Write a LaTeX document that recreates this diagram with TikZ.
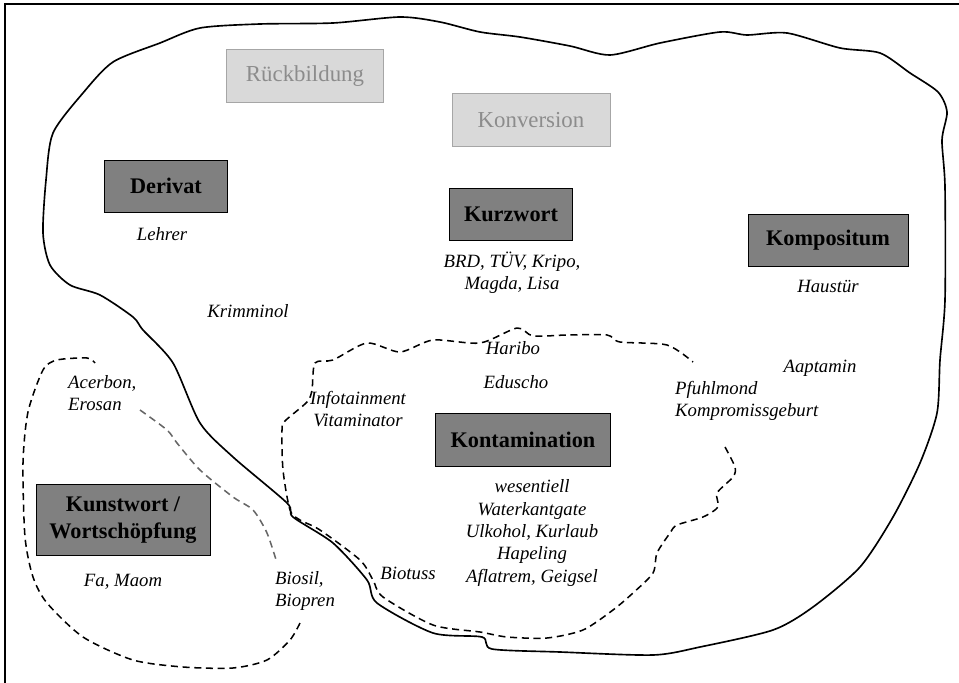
\documentclass[tikz,border=0pt]{standalone}
\usepackage{fontspec}
\setmainfont{Liberation Serif}
\tikzset{
  darkbox/.style={draw=black, fill=black!50, line width=0.8pt, font=\fontsize{19}{23}\selectfont\bfseries, align=center, inner sep=0pt},
  lightbox/.style={draw=black!35, fill=black!15, line width=0.8pt, text=black!45, font=\fontsize{19.5}{23}\selectfont, inner sep=0pt},
  example/.style={font=\fontsize{16}{19}\selectfont\itshape, inner sep=0pt},
  region/.style={line width=1.4pt, line join=round},
  dashregion/.style={line width=1.3pt, dash pattern=on 6pt off 4pt, line join=round}
}
\begin{document}
\begin{tikzpicture}[x=0.03cm, y=-0.03cm]
    \useasboundingbox (0,0) rectangle (959,683);
    \fill[white] (0,0) rectangle (959,683);
    % frame
    \draw[line width=1pt] (5,683) -- (5,4) -- (959,4);

    % outer region
    \draw[region] plot[smooth cycle, tension=0.45] coordinates {
        (200,28) (260,24) (333,23) (400,17) (440,22) (480,32) (520,37) (570,46)
        (610,55) (660,43) (720,32) (747,35) (787,33) (840,48) (880,53) (910,73)
        (938,92) (947,112) (942,140) (945,187) (945,300) (940,360) (937,413)
        (920,463) (893,517) (860,567) (813,607) (773,630) (700,647) (653,655)
        (560,652) (492,649) (482,637) (433,633) (377,603) (367,580) (333,543)
        (293,517) (287,503) (233,457) (200,423) (173,363) (143,330) (133,317)
        (100,295) (70,285) (50,265) (43,233) (46,180) (53,133) (83,93) (113,62)
        (160,43)};

    % Kontamination region
    \draw[dashregion] plot[smooth, tension=0.45] coordinates {
        (725,447) (735,467) (733,477) (717,493) (718,507) (703,517) (677,525)
        (670,533) (657,553) (653,573) (633,593) (613,610) (583,630) (547,638)
        (507,637) (480,632) (433,625) (383,597) (373,580) (360,560) (320,530)
        (300,520) (290,510) (283,470) (282,430) (285,421) (307,402) (312,390)
        (315,363) (333,360) (367,343) (400,352) (433,340) (480,343) (517,328)
        (533,336) (567,335) (607,335) (620,342) (667,345) (693,362)};

    % Kunstwort region
    \draw[dashregion] plot[smooth, tension=0.45] coordinates {
        (300,623) (290,640) (267,660) (233,668) (183,667) (133,660) (83,637)
        (47,603) (33,577) (25,537) (23,463) (28,412) (43,370) (57,360) (87,358)
        (95,363)};
    \draw[dashregion, black!60] plot[smooth, tension=0.45] coordinates {
        (140,410) (167,430) (177,443) (200,470) (233,497) (253,510) (267,533)
        (277,563)};

    % boxes
    \node[lightbox, minimum width=4.71cm, minimum height=1.59cm] (rueck) at (305,76) {Rückbildung};
    \node[lightbox, minimum width=4.74cm, minimum height=1.59cm] (konversion) at (531,120) {Konversion};
    \node[darkbox, minimum width=3.69cm, minimum height=1.56cm] (derivat) at (166,186) {Derivat};
    \node[darkbox, minimum width=3.69cm, minimum height=1.56cm] (kurzwort) at (511,214) {Kurzwort};
    \node[darkbox, minimum width=4.8cm, minimum height=1.56cm] (kompositum) at (828,240) {Kompositum};
    \node[darkbox, minimum width=5.25cm, minimum height=1.59cm] (kontamination) at (523,440) {Kontamination};
    \node[darkbox, minimum width=5.22cm, minimum height=2.13cm] (kunstwort) at (123,520) {Kunstwort /\\Wortschöpfung};

    % examples
    \node[example] (lehrer) at (162,234) {Lehrer};
    \node[example, align=center] (kurzbsp) at (512,273) {BRD, TÜV, Kripo,\\Magda, Lisa};
    \node[example] (haustuer) at (828,286) {Haustür};
    \node[example] (krimminol) at (248,311) {Krimminol};
    \node[example] (haribo) at (513,348) {Haribo};
    \node[example] (eduscho) at (516,382) {Eduscho};
    \node[example, align=center] (infotainment) at (358,409) {Infotainment\\Vitaminator};
    \node[example] (aaptamin) at (820,368) {Aaptamin};
    \node[example, align=left, anchor=west] (pfuhlmond) at (675,401) {Pfuhlmond\\Kompromissgeburt};
    \node[example, align=left, anchor=west] (acerbon) at (68,393) {Acerbon,\\Erosan};
    \node[example] (famaom) at (123,582) {Fa, Maom};
    \node[example, align=left, anchor=west] (biosil) at (275,591) {Biosil,\\Biopren};
    \node[example] (biotuss) at (408,573) {Biotuss};
    \node[example, align=center] (kontbsp) at (532,533) {wesentiell\\Waterkantgate\\Ulkohol, Kurlaub\\Hapeling\\Aflatrem, Geigsel};
\end{tikzpicture}
\end{document}
